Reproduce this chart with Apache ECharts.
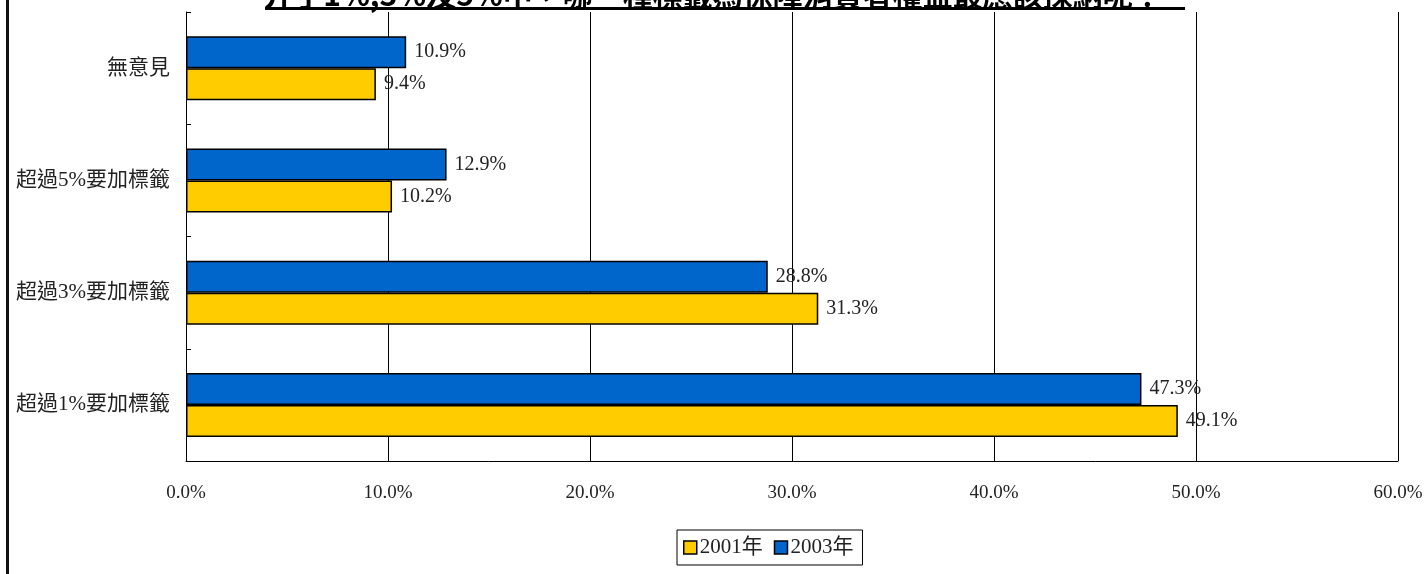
<!DOCTYPE html>
<html>
<head>
<meta charset="utf-8">
<script src="https://cdn.jsdelivr.net/npm/echarts@6/dist/echarts.min.js"></script>
<style>
  html, body { margin: 0; padding: 0; background: #fff; }
  #main { width: 1426px; height: 574px; }
</style>
</head>
<body>
<div id="main"></div>
<script>
// 類別（由下至上）
var categories = ['超過1%要加標籤', '超過3%要加標籤', '超過5%要加標籤', '無意見'];
var values2001 = [49.1, 31.3, 10.2, 9.4];
var values2003 = [47.3, 28.8, 12.9, 10.9];
var xTicks = [0, 10, 20, 30, 40, 50, 60];

var serif = '"Liberation Serif", "Noto Sans CJK TC", serif';

var myChart = echarts.init(document.getElementById('main'));

var labelOpt = {
  show: true,
  position: 'right',
  distance: 8,
  color: '#222',
  fontFamily: serif,
  fontSize: 20,
  formatter: function (p) { return p.value.toFixed(1) + '%'; }
};

var option = {
  animation: false,
  title: {
    text: '介乎1%,3%及5%中，哪一種標籤為保障消費者權益最應該採納呢？',
    left: 'center',
    top: -25,
    textStyle: { fontFamily: '"Noto Sans CJK TC"', fontSize: 30, fontWeight: 'bold', color: '#000' }
  },
  graphic: [
    { type: 'rect', shape: { x: 6, y: 0, width: 3, height: 574 }, style: { fill: '#111' } },
    { type: 'rect', shape: { x: 265, y: 7, width: 920, height: 3 }, style: { fill: '#000' } }
  ],
  grid: { left: 186, right: 28, top: 12, bottom: 113, containLabel: false },
  legend: {
    data: ['2001年', '2003年'],
    left: 677,
    top: 530,
    orient: 'horizontal',
    borderColor: '#000',
    borderWidth: 1,
    padding: [7, 9, 7, 6],
    itemWidth: 13,
    itemHeight: 13,
    itemGap: 11,
    icon: 'rect',
    textStyle: { fontFamily: serif, fontSize: 21, color: '#222', padding: [0, 0, 0, -2] },
    itemStyle: { borderColor: '#000', borderWidth: 1.5 }
  },
  xAxis: {
    type: 'value',
    min: xTicks[0],
    max: xTicks[xTicks.length - 1],
    interval: 10,
    axisLine: { show: true, lineStyle: { color: '#000', width: 1 } },
    axisTick: { show: false },
    splitLine: { show: true, lineStyle: { color: '#000', width: 1 } },
    axisLabel: {
      margin: 23,
      color: '#222',
      fontFamily: serif,
      fontSize: 19,
      formatter: function (v) { return v.toFixed(1) + '%'; }
    }
  },
  yAxis: {
    type: 'category',
    data: categories,
    axisLine: { show: true, lineStyle: { color: '#000', width: 1 } },
    axisTick: { show: true, inside: true, length: 5, lineStyle: { color: '#000' } },
    axisLabel: {
      margin: 16,
      color: '#222',
      fontFamily: '"Liberation Serif", "Noto Sans CJK TC"',
      fontSize: 21
    }
  },
  series: [
    {
      name: '2003年',
      type: 'bar',
      data: values2003,
      barWidth: 32,
      barGap: '0%',
      itemStyle: { color: '#0066CC', borderColor: '#000', borderWidth: 1.5 },
      label: labelOpt
    },
    {
      name: '2001年',
      type: 'bar',
      data: values2001,
      barWidth: 32,
      barGap: '0%',
      itemStyle: { color: '#FFCC00', borderColor: '#000', borderWidth: 1.5 },
      label: labelOpt
    }
  ]
};

myChart.setOption(option);
</script>
</body>
</html>
